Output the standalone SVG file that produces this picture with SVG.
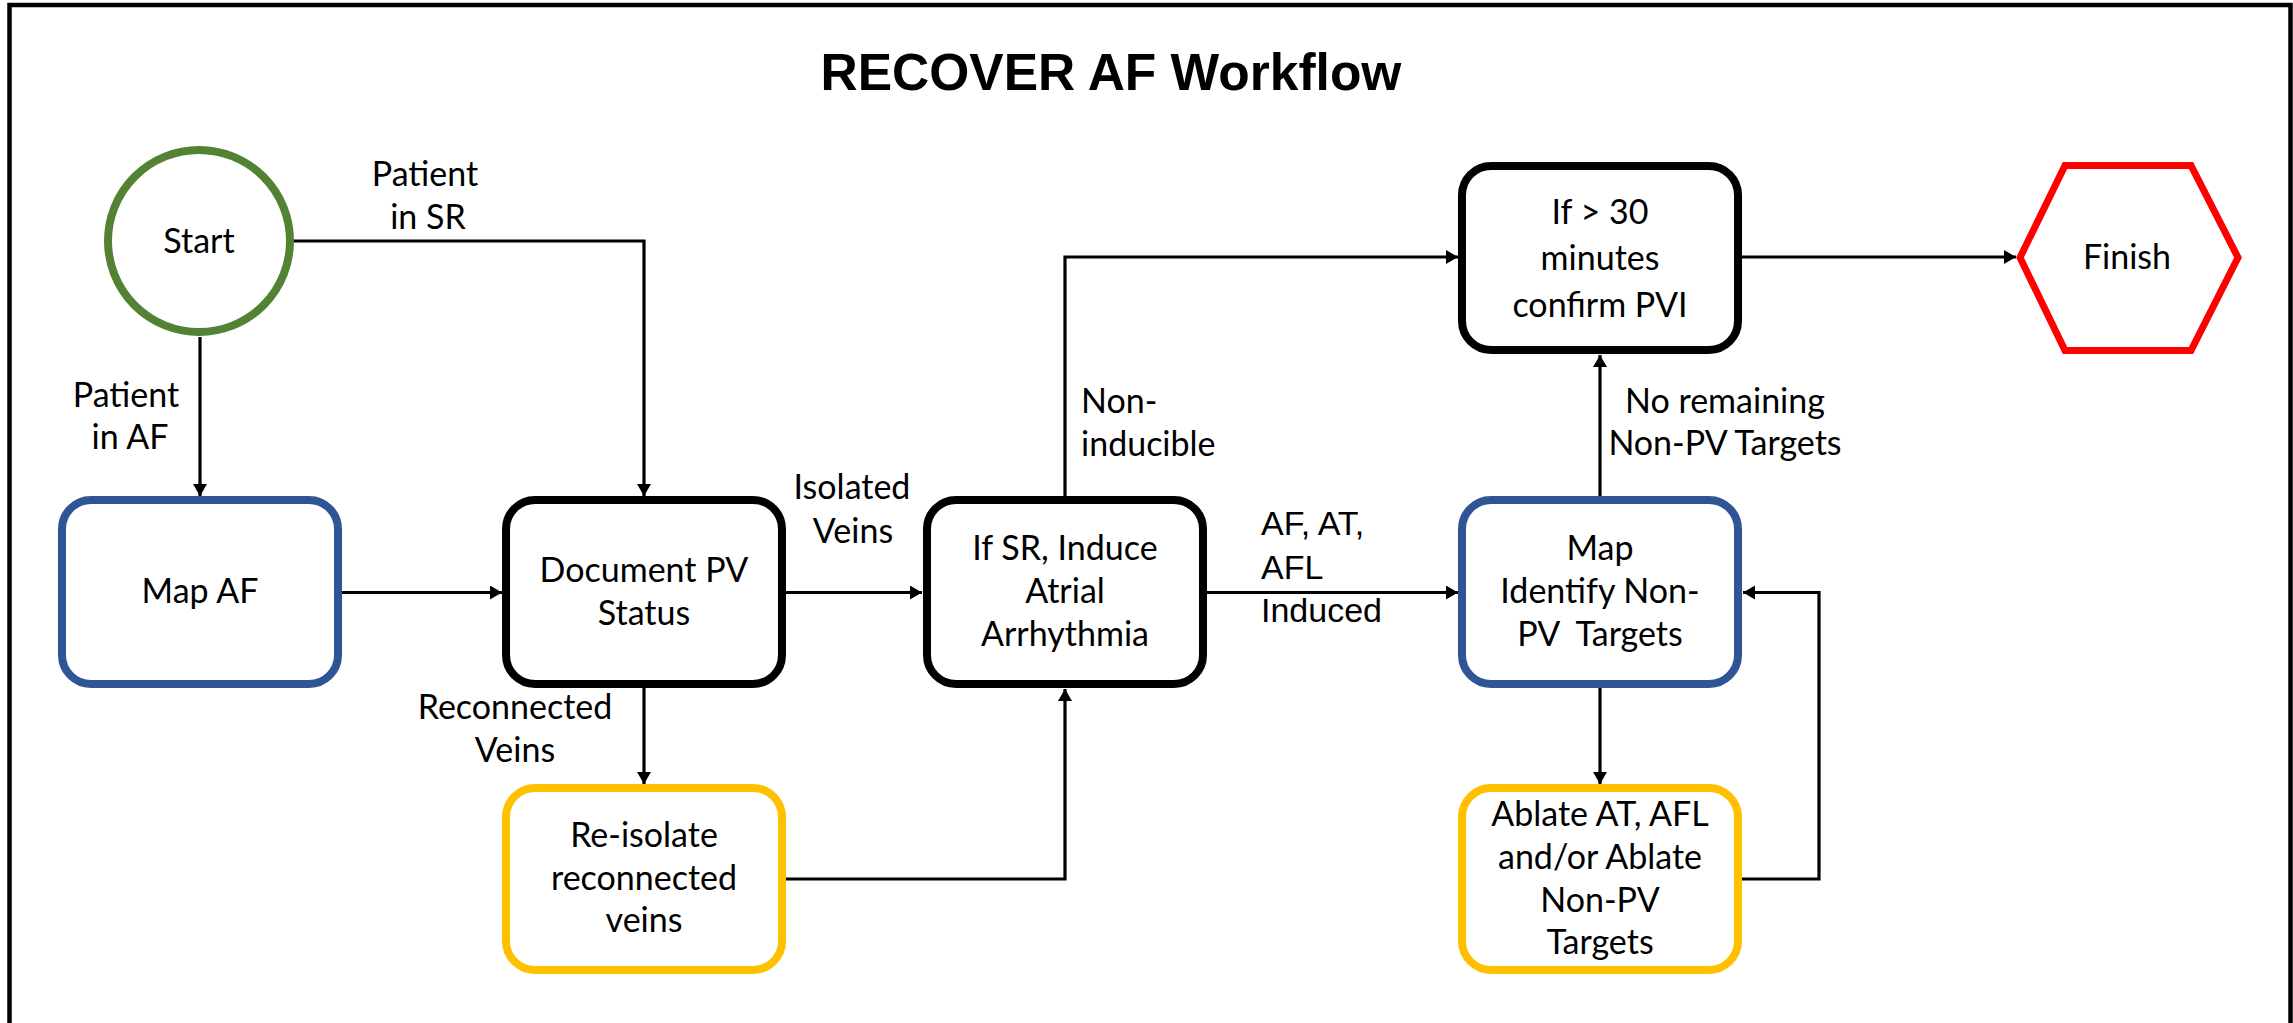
<svg xmlns="http://www.w3.org/2000/svg" width="2293" height="1023" viewBox="0 0 2293 1023">
<style>
  .box { fill: #ffffff; stroke-width: 8; }
  .black { stroke: #000000; }
  .blue { stroke: #2F5597; }
  .yellow { stroke: #FFC000; }
  .t { font-family: Lato, "Open Sans", sans-serif; font-size: 34px; fill: #000000; text-anchor: middle; }
  .lbl { font-family: Lato, "Open Sans", sans-serif; font-size: 34px; fill: #000000; }
  .arial { font-family: "Liberation Sans", Arial, sans-serif; font-size: 34px; fill: #000000; }
  .c { fill: none; stroke: #000000; stroke-width: 3.2; }
</style>
<defs>
  <marker id="arr" markerUnits="userSpaceOnUse" markerWidth="14" markerHeight="16" refX="12" refY="7" orient="auto">
    <path d="M0,0 L12,7 L0,14 z" fill="#000000"/>
  </marker>
</defs>
<rect x="0" y="0" width="2293" height="1023" fill="#ffffff"/>
<rect x="9.5" y="5" width="2281" height="1100" fill="none" stroke="#000000" stroke-width="4.5"/>
<text x="1111" y="90" font-family="Liberation Sans, Arial, sans-serif" font-size="51.5" font-weight="bold" text-anchor="middle">RECOVER AF Workflow</text>

<g id="connectors">
  <path class="c" d="M200,337 V496" marker-end="url(#arr)"/>
  <path class="c" d="M293,241 H644 V496" marker-end="url(#arr)"/>
  <path class="c" d="M341,592.5 H502" marker-end="url(#arr)"/>
  <path class="c" d="M786,592.5 H922" marker-end="url(#arr)"/>
  <path class="c" d="M644,688 V784" marker-end="url(#arr)"/>
  <path class="c" d="M786,879 H1065 V689" marker-end="url(#arr)"/>
  <path class="c" d="M1065,496 V257 H1458" marker-end="url(#arr)"/>
  <path class="c" d="M1206,592.5 H1458" marker-end="url(#arr)"/>
  <path class="c" d="M1600,496 V355" marker-end="url(#arr)"/>
  <path class="c" d="M1742,257 H2016" marker-end="url(#arr)"/>
  <path class="c" d="M1600,688 V784" marker-end="url(#arr)"/>
  <path class="c" d="M1740,879 H1819 V592.5 H1743" marker-end="url(#arr)"/>
  <g id="labels">
    <text class="t" x="425" y="186">Patient</text>
    <text class="t" x="428" y="229">in SR</text>
    <text class="t" x="126" y="407">Patient</text>
    <text class="t" x="130" y="449">in AF</text>
    <text class="t" x="852" y="499">Isolated</text>
    <text class="t" x="853" y="543">Veins</text>
    <text class="t" x="515" y="719">Reconnected</text>
    <text class="t" x="515" y="762">Veins</text>
    <text class="lbl" x="1081" y="413">Non-</text>
    <text class="lbl" x="1081" y="456">inducible</text>
    <text class="arial" x="1261" y="535">AF, AT,</text>
    <text class="arial" x="1261" y="579">AFL</text>
    <text class="arial" x="1261" y="622">Induced</text>
    <text class="t" x="1725" y="413">No remaining</text>
    <text class="t" x="1725" y="455">Non-PV Targets</text>
  </g>
</g>

<g id="start">
  <circle cx="199" cy="241" r="91" fill="#ffffff" stroke="#548235" stroke-width="8"/>
  <text class="t" x="199" y="253">Start</text>
</g>
<g id="map-af">
  <rect class="box blue" x="62" y="500" width="276" height="184" rx="29"/>
  <text class="t" x="200" y="603">Map AF</text>
</g>
<g id="document-pv">
  <rect class="box black" x="506" y="500" width="276" height="184" rx="29"/>
  <text class="t" x="644" y="582">Document PV</text>
  <text class="t" x="644" y="625">Status</text>
</g>
<g id="re-isolate">
  <rect class="box yellow" x="506" y="788" width="276" height="182" rx="29"/>
  <text class="t" x="644" y="847">Re-isolate</text>
  <text class="t" x="644" y="890">reconnected</text>
  <text class="t" x="644" y="932">veins</text>
</g>
<g id="induce">
  <rect class="box black" x="927" y="500" width="276" height="184" rx="29"/>
  <text class="t" x="1065" y="560">If SR, Induce</text>
  <text class="t" x="1065" y="603">Atrial</text>
  <text class="t" x="1065" y="646">Arrhythmia</text>
</g>
<g id="confirm-pvi">
  <rect class="box black" x="1462" y="166" width="276" height="184" rx="29"/>
  <text class="t" x="1600" y="224">If &gt; 30</text>
  <text class="t" x="1600" y="270">minutes</text>
  <text class="t" x="1600" y="317">confirm PVI</text>
</g>
<g id="finish">
  <polygon points="2020,257.5 2065,165.5 2191,165.5 2238,257.5 2191,350.5 2065,350.5" fill="#ffffff" stroke="#FF0000" stroke-width="7"/>
  <text class="t" x="2127" y="269">Finish</text>
</g>
<g id="map-non-pv">
  <rect class="box blue" x="1462" y="500" width="276" height="184" rx="29"/>
  <text class="t" x="1600" y="560">Map</text>
  <text class="t" x="1600" y="603">Identify Non-</text>
  <text class="t" x="1600" y="646" xml:space="preserve">PV  Targets</text>
</g>
<g id="ablate">
  <rect class="box yellow" x="1462" y="788" width="276" height="182" rx="29"/>
  <text class="t" x="1600" y="826">Ablate AT, AFL</text>
  <text class="t" x="1600" y="869">and/or Ablate</text>
  <text class="t" x="1600" y="912">Non-PV</text>
  <text class="t" x="1600" y="954">Targets</text>
</g>
</svg>
